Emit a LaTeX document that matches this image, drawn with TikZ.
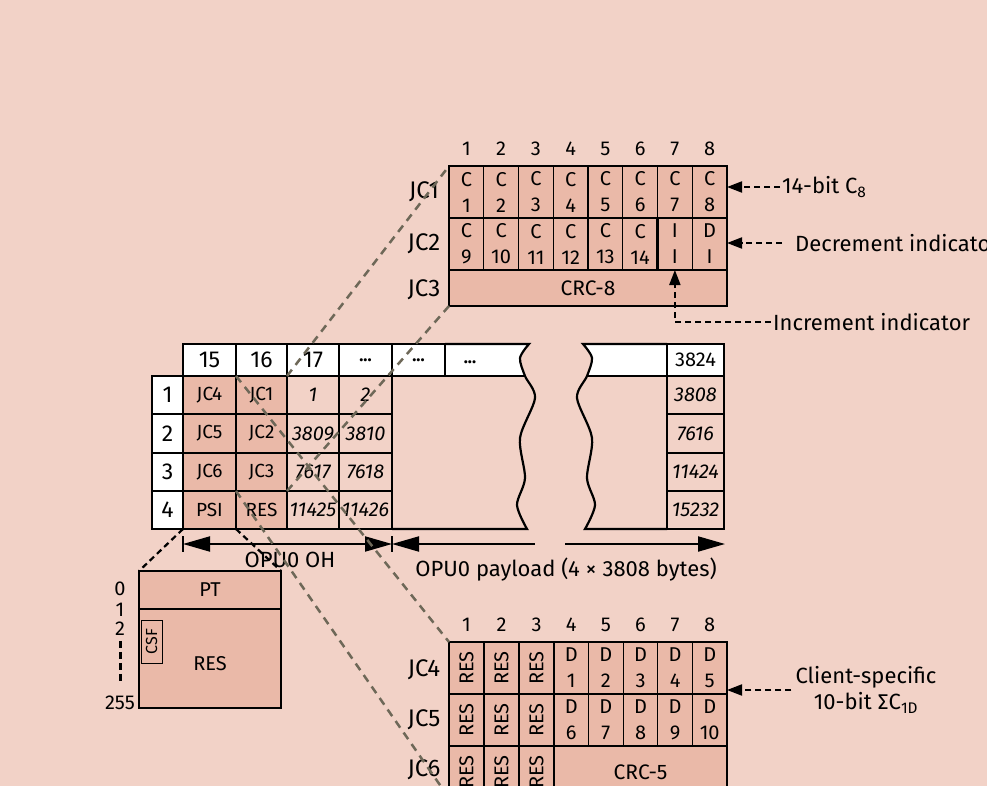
\documentclass[tikz,border=0pt]{standalone}
\usepackage{fontspec}
\usepackage{graphicx}
\setmainfont{Fira Sans}
\newfontfamily\sigmafont{Fira Sans}
\usetikzlibrary{arrows.meta}
\definecolor{bgpink}{RGB}{242,210,199}
\definecolor{cellpink}{RGB}{234,185,168}
\definecolor{zoomgray}{RGB}{110,104,88}
\newcommand{\fsz}[1]{\fontsize{#1}{#1}\selectfont}

\begin{document}
\begin{tikzpicture}[x=1pt, y=-1pt,
    tcell/.style = {draw, line width=2.2pt, inner sep=0pt, outer sep=0pt, font=\fsz{19}},
    wcell/.style = {tcell, fill=white},
    hcell/.style = {wcell, minimum height=32pt, font=\fsz{23}},
    dcell/.style = {tcell, fill=cellpink},
    lcell/.style = {tcell, fill=bgpink, font=\fsz{20}\itshape},
    bitcell/.style = {draw, line width=1.3pt, fill=cellpink, inner sep=0pt, outer sep=0pt, minimum width=34.75pt, minimum height=52pt, align=center, font=\fontsize{20}{26}\selectfont},
    rescell/.style = {bitcell, minimum width=35pt, font=\fsz{20}},
    colnum/.style = {font=\fsz{20}},
    jclabel/.style = {font=\fsz{24}},
    note/.style = {font=\fsz{22}, inner sep=2pt},
    zoomline/.style = {draw=zoomgray, line width=2.5pt, dash pattern=on 8pt off 6pt},
    blackdash/.style = {draw, line width=2.2pt, dash pattern=on 6pt off 4pt},
    noteline/.style = {draw, line width=2pt, dash pattern=on 6pt off 4pt, -{Triangle[length=15pt,width=11pt]}},
    dimline/.style = {draw, line width=2pt},
    dimtip/.tip = {Triangle[length=27pt,width=15pt]}
]
\fill[bgpink] (0,0) rectangle (987,786);
\useasboundingbox (0,0) rectangle (987,786);

% OPU0 frame, left part
\fill[white] (445,344) -- (529,344) -- (520,358) -- (525,376) -- (445,376) -- cycle;
\draw[line width=2.2pt] (445,344) -- plot[smooth] coordinates {(529,344) (520,358) (525,376) (535,398) (520,438) (525,478) (517,505) (527,529)} -- (392,529);
\draw[line width=2.2pt] (445,376) -- (525,376);
\node[hcell, minimum width=53pt] (h15) at (209.5,360) {15};
\node[hcell, minimum width=51pt] (h16) at (261.5,360) {16};
\node[hcell, minimum width=52pt] (h17) at (313,360) {17};
\node[hcell, minimum width=53pt, font=\fsz{17}\bfseries] (hdotA) at (365.5,360) {...};
\node[hcell, minimum width=53pt, font=\fsz{17}\bfseries] (hdotB) at (418.5,360) {...};
\node[font=\fsz{17}\bfseries] (hdotC) at (470,362) {...};

\node[wcell, minimum width=31pt, minimum height=38pt, font=\fsz{23}] (r1) at (167.5,395) {1};
\node[wcell, minimum width=31pt, minimum height=39pt, font=\fsz{23}] (r2) at (167.5,433.5) {2};
\node[wcell, minimum width=31pt, minimum height=38pt, font=\fsz{23}] (r3) at (167.5,472) {3};
\node[wcell, minimum width=31pt, minimum height=38pt, font=\fsz{23}] (r4) at (167.5,510) {4};

\node[dcell, minimum width=53pt, minimum height=38pt] (jc4) at (209.5,395) {JC4};
\node[dcell, minimum width=53pt, minimum height=39pt] (jc5) at (209.5,433.5) {JC5};
\node[dcell, minimum width=53pt, minimum height=38pt] (jc6) at (209.5,472) {JC6};
\node[dcell, minimum width=53pt, minimum height=38pt] (psi) at (209.5,510) {PSI};
\node[dcell, minimum width=51pt, minimum height=38pt] (jc1) at (261.5,395) {JC1};
\node[dcell, minimum width=51pt, minimum height=39pt] (jc2) at (261.5,433.5) {JC2};
\node[dcell, minimum width=51pt, minimum height=38pt] (jc3) at (261.5,472) {JC3};
\node[dcell, minimum width=51pt, minimum height=38pt] (res) at (261.5,510) {RES};
\node[lcell, minimum width=52pt, minimum height=38pt] (p1) at (313,395) {1};
\node[lcell, minimum width=52pt, minimum height=39pt] (p3809) at (313,433.5) {3809};
\node[lcell, minimum width=52pt, minimum height=38pt] (p7617) at (313,472) {7617};
\node[lcell, minimum width=52pt, minimum height=38pt] (p11425) at (313,510) {11425};
\node[lcell, minimum width=53pt, minimum height=38pt] (p2) at (365.5,395) {2};
\node[lcell, minimum width=53pt, minimum height=39pt] (p3810) at (365.5,433.5) {3810};
\node[lcell, minimum width=53pt, minimum height=38pt] (p7618) at (365.5,472) {7618};
\node[lcell, minimum width=53pt, minimum height=38pt] (p11426) at (365.5,510) {11426};

% OPU0 frame, right part
\fill[white] (667,344) -- (583,344) -- (592,358) -- (587,376) -- (667,376) -- cycle;
\draw[line width=2.2pt] (667,344) -- plot[smooth] coordinates {(583,344) (592,358) (587,376) (577,398) (592,438) (587,478) (595,505) (585,529)} -- (667,529);
\draw[line width=2.2pt] (587,376) -- (667,376);
\node[hcell, minimum width=57pt, font=\fsz{20}] (h3824) at (695.5,360) {3824};
\node[lcell, minimum width=57pt, minimum height=38pt] (p3808) at (695.5,395) {3808};
\node[lcell, minimum width=57pt, minimum height=39pt] (p7616) at (695.5,433.5) {7616};
\node[lcell, minimum width=57pt, minimum height=38pt] (p11424) at (695.5,472) {11424};
\node[lcell, minimum width=57pt, minimum height=38pt] (p15232) at (695.5,510) {15232};

% OH / payload extent
\coordinate (ohL) at (183,544);
\coordinate (ohR) at (392,544);
\coordinate (plA) at (535,544);
\coordinate (plB) at (565,544);
\coordinate (plE) at (725,544);
\draw[dimline, dimtip-dimtip] (ohL) -- (ohR);
\draw[dimline, dimtip-] (ohR) -- (plA);
\draw[dimline, -dimtip] (plB) -- (plE);
\draw[line width=1.5pt] (ohL) ++(0,-8) -- ++(0,16);
\draw[line width=1.5pt] (ohR) ++(0,-8) -- ++(0,16);
\node[font=\fsz{22}] (ohlbl) at (290,560) {OPU0 OH};
\node[font=\fsz{22}] (pllbl) at (566,570) {OPU0 payload (4 × 3808 bytes)};

% JC1-JC3 bytes
\foreach \k in {1,...,8} {
    \node[colnum] (tn\k) at ({449+(\k-0.5)*34.75},149) {\k};
    \node[bitcell] (t1\k) at ({449+(\k-0.5)*34.75},192) {C\\\k};
}
\foreach \k [evaluate=\k as \n using int(\k+8)] in {1,...,6} {
    \node[bitcell] (t2\k) at ({449+(\k-0.5)*34.75},244) {C\\\n};
}
\node[bitcell] (t27) at ({449+6.5*34.75},244) {I\\I};
\node[bitcell] (t28) at ({449+7.5*34.75},244) {D\\I};
\node[bitcell, minimum width=278pt, minimum height=36pt, font=\fsz{21}] (crc8) at (588,288) {CRC-8};
\draw[line width=2.6pt] (t11.north west) rectangle (crc8.south east);
\draw[line width=2.6pt] (t27.north west) rectangle (t28.south east);
\node[jclabel] (ljc1) at (424,192) {JC1};
\node[jclabel] (ljc2) at (424,244) {JC2};
\node[jclabel] (ljc3) at (424,290) {JC3};

\node[note, anchor=west] (n14) at (780,187) {14-bit C\textsubscript{8}};
\node[note, anchor=west] (ndec) at (793,243) {Decrement indicator};
\node[note, anchor=west] (ninc) at (771,322) {Increment indicator};
\draw[noteline] (n14.west) -- (n14.west -| t18.east);
\draw[noteline] ([xshift=-11pt]ndec.west) -- (ndec.west -| t28.east);
\draw[noteline] (ninc.west) -| (t27.south);

% JC4-JC6 bytes
\foreach \k/\x in {1/466.5,2/501.5,3/536.5,4/571.3,5/605.9,6/640.5,7/675.1,8/709.7} {
    \node[colnum] (bn\k) at (\x,625) {\k};
}
\foreach \r/\y in {1/668,2/720,3/772} {
    \foreach \c/\x in {1/466.5,2/501.5,3/536.5} {
        \node[rescell] (rb\r\c) at (\x,\y) {\rotatebox{90}{RES}};
    }
}
\foreach \k in {1,...,5} {
    \node[bitcell, minimum width=34.6pt] (d1\k) at ({554+(\k-0.5)*34.6},668) {D\\\k};
}
\foreach \k [evaluate=\k as \n using int(\k+5)] in {1,...,5} {
    \node[bitcell, minimum width=34.6pt] (d2\k) at ({554+(\k-0.5)*34.6},720) {D\\\n};
}
\node[bitcell, minimum width=173pt, font=\fsz{21}] (crc5) at (640.5,772) {CRC-5};
\draw[line width=2.6pt] (rb11.north west) rectangle (crc5.south east);
\draw[line width=2.6pt] (d11.north west) rectangle (crc5.south east);
\node[jclabel] (ljc4) at (424,670) {JC4};
\node[jclabel] (ljc5) at (424,720) {JC5};
\node[jclabel] (ljc6) at (424,770) {JC6};

\node[note, align=center, font=\fontsize{22}{26}\selectfont] (ncli) at (866,690) {Client-specific\\10-bit {\sigmafont ∑}C\textsubscript{1D}};
\draw[noteline] ([xshift=-2pt]ncli.west) -- (ncli.west -| d15.east);

% PSI byte map
\node[draw, line width=2.6pt, fill=cellpink, inner sep=0pt, outer sep=0pt, minimum width=142pt, minimum height=38pt, font=\fsz{20}] (pt) at (210,590) {PT};
\node[draw, line width=2.6pt, fill=cellpink, inner sep=0pt, outer sep=0pt, minimum width=142pt, minimum height=99pt] (psimap) at (210,658.5) {};
\node[font=\fsz{20}] (psireslbl) at (210,664) {RES};
\node[draw, line width=1pt, inner sep=0pt, minimum width=43pt, minimum height=21pt, rotate=90, font=\fsz{16}] (csf) at (151.5,641.5) {CSF};
\node[font=\fsz{20}, inner sep=0pt] (b0) at (120,589) {0};
\node[font=\fsz{20}, inner sep=0pt] (b1) at (120,610) {1};
\node[font=\fsz{20}, inner sep=0pt] (b2) at (120,629) {2};
\node[font=\fsz{20}, inner sep=0pt] (b255) at (120,703) {255};
\draw[line width=3pt, dash pattern=on 7pt off 4pt, shorten <=5pt, shorten >=13pt] (b2.south) -- (b255.north);
\draw[blackdash] (psi.south west) -- (pt.north west);
\draw[blackdash] (psi.south east) -- (pt.north east);

% zoom lines
\draw[zoomline] (jc1.north east) -- (t11.north west);
\draw[zoomline] (jc3.south east) -- (crc8.south west);
\draw[zoomline] (jc1.north west) -- (rb11.north west);
\draw[zoomline] (jc3.south west) -- (rb31.south west);
\end{tikzpicture}
\end{document}
